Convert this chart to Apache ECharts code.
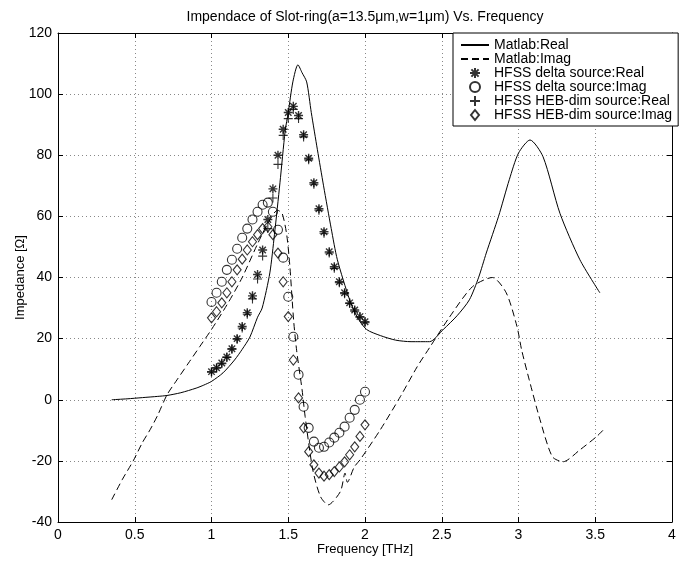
<!DOCTYPE html>
<html>
<head>
<meta charset="utf-8">
<script src="https://cdn.jsdelivr.net/npm/echarts@6/dist/echarts.min.js"></script>
<style>html,body{margin:0;padding:0;background:#fff}#c{width:679px;height:562px}</style>
</head>
<body>
<div id="c"></div>
<script>
// Matlab model curves [frequency THz, impedance Ohm]
const matlabRealF = [0.35,0.45,0.55,0.65,0.71,0.8,0.9,0.95,1.0,1.075,1.15,1.2,1.25,1.3,1.33,1.38,1.41,1.446,1.48,1.5,1.53,1.563,1.59,1.62,1.65,1.69,1.73,1.78,1.82,1.9,1.95,2.01,2.1,2.2,2.3,2.42,2.51,2.6,2.68,2.74,2.79,2.87,2.94,3.0,3.075,3.16,3.27,3.4,3.53];
const matlabRealV = [0,0.3,0.7,1.1,1.4,2.3,3.8,4.8,6,8.8,13,16.5,20.5,27,30,41.5,54,71,88,94,104,109.6,107,104,94,81.8,70,56,45.8,32.7,27,23,21,19.5,19,19,23,27.5,32.7,40,48,60,72,80.7,85,79.5,61,45.8,35];
const matlabImagF = [0.35,0.42,0.49,0.55,0.6,0.65,0.71,0.775,0.85,0.925,1.0,1.1,1.2,1.3,1.37,1.43,1.46,1.49,1.51,1.535,1.555,1.59,1.61,1.66,1.71,1.76,1.84,1.87,1.885,1.93,1.97,2.1,2.23,2.34,2.42,2.55,2.7,2.83,2.92,2.99,3.02,3.07,3.14,3.22,3.29,3.4,3.51,3.55];
const matlabImagV = [-32.7,-26,-20,-14,-9.8,-5,1.6,6.5,12,17.5,23,31,40,51,58,62,61,54,44,26,16,3.3,-5.5,-23,-31.7,-34.4,-30,-24,-27,-22,-19.5,-9.8,1,10.8,17,27,37,40,35,24,16.4,6.5,-6.5,-18.6,-20.3,-16.4,-12,-10];
// HFSS simulated points
const hfssF = [1.000,1.033,1.067,1.100,1.133,1.167,1.200,1.233,1.267,1.300,1.333,1.367,1.400,1.433,1.467,1.500,1.533,1.567,1.600,1.633,1.667,1.700,1.733,1.767,1.800,1.833,1.867,1.900,1.933,1.967,2.000];
const deltaReal = [9.2,10.5,12,14,16.7,20,24,28.5,34,41,49,59,69,80,88.5,94,96,93,86.7,79,71,62.5,55,48.4,43.5,38.6,35,31.7,29.4,27.2,25.5];
const deltaImag = [32,35,38.6,42.5,45.8,49.4,53,56,59,61.5,63.8,64.5,61.5,55.6,46.5,33.7,20.6,8.2,-2.3,-9.2,-13.7,-15.7,-15.4,-14,-12.4,-10.8,-8.8,-5.9,-3.3,0,2.6];
const hebReal = [9,10.3,11.8,13.8,16.5,19.8,23.5,28,33,39.5,47,56,66,77,86.5,92,95,92,86,78.5,70.5,62,54.5,48,43,38.3,34.7,31.5,29,27,25.2];
const hebImag = [26.8,28.8,31.7,35,38.6,42.5,46,49,51.7,54,56,56.6,54,48,38.6,27.2,13,0.6,-9.2,-17,-21.3,-24,-25,-24.5,-23.5,-22,-20.3,-18,-15.4,-12,-8.2];
const legendNames = ['Matlab:Real','Matlab:Imag','HFSS delta source:Real','HFSS delta source:Imag','HFSS HEB-dim source:Real','HFSS HEB-dim source:Imag'];

const zip = (a, b) => a.map((x, i) => [x, b[i]]);
const FONT = 'Liberation Sans, Arial, sans-serif';
const asterisk = 'path://M0,-5L0,5M-5,0L5,0M-3.6,-3.6L3.6,3.6M-3.6,3.6L3.6,-3.6';
const plus = 'path://M0,-5L0,5M-5,0L5,0';
const diamond = 'path://M0,-5L4,0L0,5L-4,0Z';
const markerStyle = {color: 'rgba(255,255,255,0)', borderColor: '#000', borderWidth: 1.1};
const heavyMarker = {color: 'rgba(255,255,255,0)', borderColor: '#000', borderWidth: 1.4};
const hiddenSym = {color: 'rgba(0,0,0,0)', borderWidth: 0, borderColor: 'rgba(0,0,0,0)'};

const chart = echarts.init(document.getElementById('c'), null, {renderer: 'canvas'});
const baseAxis = {
  axisLine: {show: true, onZero: false, lineStyle: {color: '#000', width: 1}},
  axisTick: {show: true, inside: true, length: 5, lineStyle: {color: '#000'}},
  axisLabel: {color: '#000', fontSize: 14, fontFamily: FONT, margin: 6},
  splitLine: {show: false}
};
chart.setOption({
  backgroundColor: '#fff',
  animation: false,
  title: {
    text: 'Impendace of Slot-ring(a=13.5\u03bcm,w=1\u03bcm) Vs. Frequency',
    left: 365, top: 10, textAlign: 'center', padding: 0,
    textStyle: {fontSize: 14, fontWeight: 'normal', color: '#000', fontFamily: FONT}
  },
  grid: {left: 58, right: 7, top: 33, bottom: 40, containLabel: false},
  legend: {
    orient: 'vertical', left: 453, top: 33,
    itemWidth: 28, itemHeight: 10, itemGap: 0,
    padding: [5, 6, 4, 7],
    backgroundColor: '#fff', borderColor: '#000', borderWidth: 1,
    textStyle: {fontSize: 14, color: '#000', fontFamily: FONT},
    data: legendNames
  },
  xAxis: [
    Object.assign({}, baseAxis, {
      type: 'value', min: 0, max: 4, interval: 0.5, position: 'bottom',
      name: 'Frequency [THz]', nameLocation: 'middle', nameGap: 21, nameMoveOverlap: false,
      nameTextStyle: {fontSize: 13, color: '#000', fontFamily: FONT},
      splitLine: {show: true, lineStyle: {color: '#888', type: [1, 3], width: 1}}
    }),
    Object.assign({}, baseAxis, {
      type: 'value', min: 0, max: 4, interval: 0.5, position: 'top',
      axisLabel: {show: false}
    })
  ],
  yAxis: [
    Object.assign({}, baseAxis, {
      type: 'value', min: -40, max: 120, interval: 20, position: 'left',
      name: 'Impedance [\u03a9]', nameLocation: 'middle', nameGap: 31, nameMoveOverlap: false,
      nameTextStyle: {fontSize: 13, color: '#000', fontFamily: FONT},
      splitLine: {show: true, lineStyle: {color: '#888', type: [1, 3], width: 1}}
    }),
    Object.assign({}, baseAxis, {
      type: 'value', min: -40, max: 120, interval: 20, position: 'right',
      axisLabel: {show: false}
    })
  ],
  series: [
    {name: legendNames[0], type: 'line', data: zip(matlabRealF, matlabRealV), showSymbol: false, symbol: 'none', smooth: 0.25,
     lineStyle: {color: '#000', width: 1}, itemStyle: hiddenSym, z: 3},
    {name: legendNames[1], type: 'line', data: zip(matlabImagF, matlabImagV), showSymbol: false, symbol: 'none', smooth: 0.25,
     lineStyle: {color: '#000', width: 1, type: [7, 4]}, itemStyle: hiddenSym, z: 3},
    {name: legendNames[2], type: 'scatter', data: zip(hfssF, deltaReal), symbol: asterisk, symbolSize: 9, symbolKeepAspect: true, itemStyle: heavyMarker, z: 4},
    {name: legendNames[3], type: 'scatter', data: zip(hfssF, deltaImag), symbol: 'circle', symbolSize: 9, itemStyle: markerStyle, z: 4},
    {name: legendNames[4], type: 'scatter', data: zip(hfssF, hebReal), symbol: plus, symbolSize: 9, symbolKeepAspect: true, itemStyle: markerStyle, z: 4},
    {name: legendNames[5], type: 'scatter', data: zip(hfssF, hebImag), symbol: diamond, symbolSize: 10, symbolKeepAspect: true, itemStyle: markerStyle, z: 4}
  ]
});
</script>
</body>
</html>
